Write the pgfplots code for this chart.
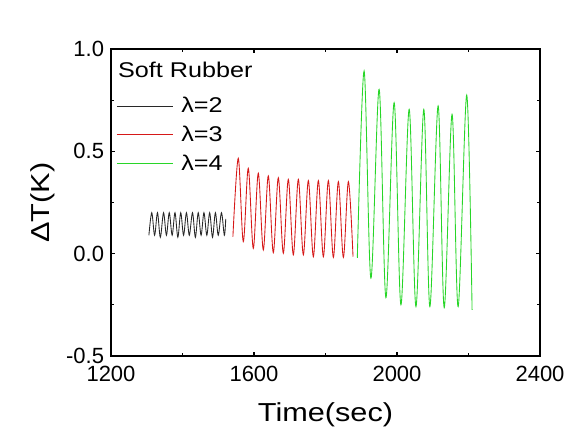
\documentclass[border=0pt]{standalone}
\usepackage{fontspec}
\setmainfont{Liberation Sans}
\newfontfamily\widefont[FakeStretch=1.18]{Liberation Sans}
\usepackage{pgfplots}
\pgfplotsset{compat=1.18}
\definecolor{cBlack}{RGB}{40,40,40}
\definecolor{cRed}{RGB}{214,24,24}
\definecolor{cGreen}{RGB}{40,214,40}

\begin{document}
\begin{tikzpicture}
\path[use as bounding box] (-83.25pt,-58.5pt) rectangle (347.25pt,267pt);
\begin{axis}[
  scale only axis, width=321.75pt, height=230.25pt,
  xmin=1200, xmax=2400, ymin=-0.5, ymax=1.0,
  xtick={1200,1600,2000,2400}, ytick={-0.5,0,0.5,1.0},
  minor x tick num=1, minor y tick num=1,
  tick align=inside, major tick length=3pt, minor tick length=2pt,
  axis line style={line width=0.9pt},
  every tick/.style={line width=0.8pt, black},
  tick label style={font=\fontsize{16.5}{18}\selectfont},
  /pgf/number format/assume math mode=true,
  x tick label style={/pgf/number format/1000 sep={}, anchor=base, yshift=-19.3pt, inner sep=0pt},
  y tick label style={/pgf/number format/fixed, /pgf/number format/fixed zerofill,
    /pgf/number format/precision=1, anchor=east, inner sep=0pt, xshift=-5pt},
  xlabel={Time(sec)}, ylabel={ΔT(K)},
  label style={font=\widefont\fontsize{19.5}{22}\selectfont, inner sep=0pt},
  xlabel style={at={(axis description cs:0.5,-0.214)}, anchor=base},
  ylabel style={at={(axis description cs:-0.1305,0.5)}, anchor=south},
  legend style={at={(rel axis cs:0.012,0.852)}, anchor=north west, draw=none, fill=none,
    inner sep=0pt, font=\widefont\fontsize{16}{18}\selectfont, row sep=4.5pt,
    column sep=4pt, cells={anchor=west}},
  legend image code/.code={\draw[#1] (0pt,0pt) -- (42pt,0pt);},
  every axis plot/.append style={line width=0.65pt, smooth, tension=0.55},
]
\node[anchor=west, font=\widefont\fontsize{16}{18}\selectfont, inner sep=0pt] at (rel axis cs:0.016,0.932) {Soft Rubber};

% lambda = 2
\addplot[cBlack] coordinates {
  (1306,0.09) (1314,0.20) (1322,0.09) (1330,0.20) (1338,0.08) (1347,0.20)
  (1355,0.09) (1363,0.20) (1371,0.09) (1379,0.20) (1387,0.08) (1395,0.20)
  (1403,0.09) (1411,0.20) (1419,0.09) (1428,0.20) (1436,0.08) (1444,0.20)
  (1452,0.09) (1460,0.20) (1468,0.09) (1476,0.20) (1484,0.08) (1492,0.20)
  (1500,0.09) (1509,0.20) (1517,0.09) (1521,0.17)
};
\addlegendentry{λ=2}

% lambda = 3
\addplot[cRed] coordinates {
  (1541,0.083) (1556,0.466) (1570,0.059) (1584,0.417) (1598,0.026)
  (1612,0.393) (1626,0.018) (1640,0.380) (1654,0.005) (1668,0.371)
  (1682,0.002) (1696,0.363) (1710,-0.006) (1724,0.363) (1738,-0.006)
  (1752,0.357) (1766,-0.015) (1780,0.357) (1794,-0.015) (1808,0.357)
  (1822,-0.018) (1836,0.352) (1850,-0.018) (1864,0.352) (1877,-0.015)
};
\addlegendentry{λ=3}

% lambda = 4
\addplot[cGreen] coordinates {
  (1889,-0.02) (1908,0.893) (1927,-0.120) (1950,0.803) (1969,-0.215)
  (1992,0.738) (2011,-0.250) (2034,0.705) (2053,-0.259) (2075,0.705)
  (2092,-0.259) (2115,0.722) (2132,-0.264) (2154,0.681) (2171,-0.259)
  (2195,0.775) (2210,-0.275)
};
\addlegendentry{λ=4}
\end{axis}
\end{tikzpicture}
\end{document}
